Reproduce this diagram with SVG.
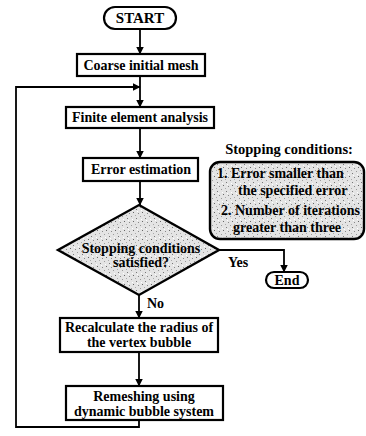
<svg xmlns="http://www.w3.org/2000/svg" width="366" height="436" viewBox="0 0 366 436">
<style>
  .t{font-family:"Liberation Serif","Times New Roman",serif;font-weight:bold;font-size:14px;fill:#000}
  .c{text-anchor:middle}
  .box{fill:#fff;stroke:#000;stroke-width:2.2}
  .sh{fill:url(#stip);stroke:#000;stroke-width:2.4}
  .ln{fill:none;stroke:#000;stroke-width:1.8}
</style>
<defs>
  <pattern id="stip" width="9" height="9" patternUnits="userSpaceOnUse">
    <rect width="9" height="9" fill="#e4e4e4"/>
    <rect x="1" y="2" width="1" height="1" fill="#777"/>
    <rect x="5" y="0" width="1" height="1" fill="#999"/>
    <rect x="7" y="5" width="1" height="1" fill="#666"/>
    <rect x="3" y="6" width="1" height="1" fill="#888"/>
    <rect x="0" y="8" width="1" height="1" fill="#aaa"/>
    <rect x="6" y="3" width="1" height="1" fill="#fff"/>
    <rect x="2" y="4" width="1" height="1" fill="#fff"/>
  </pattern>
  <marker id="ah" markerWidth="8" markerHeight="9" refX="7.5" refY="4.5" orient="auto" markerUnits="userSpaceOnUse">
    <path d="M0,0.5 L8,4.5 L0,8.5 Z" fill="#000"/>
  </marker>
</defs>

<g id="connectors">
  <line class="ln" x1="140" y1="29" x2="140" y2="54" marker-end="url(#ah)"/>
  <line class="ln" x1="140" y1="76" x2="140" y2="107" marker-end="url(#ah)"/>
  <line class="ln" x1="140" y1="128" x2="140" y2="158" marker-end="url(#ah)"/>
  <line class="ln" x1="140" y1="181" x2="140" y2="205" marker-end="url(#ah)"/>
  <line class="ln" x1="139" y1="295" x2="139" y2="318" marker-end="url(#ah)"/>
  <line class="ln" x1="139" y1="352" x2="139" y2="386" marker-end="url(#ah)"/>
  <polyline class="ln" points="218,250 284,250 284,272" marker-end="url(#ah)"/>
  <polyline class="ln" points="139,420 139,427 16,427 16,87 140,87" marker-end="url(#ah)"/>
  <text class="t" x="147" y="308">No</text>
  <text class="t" x="228" y="267">Yes</text>
</g>

<g id="start">
  <rect class="box" x="104" y="7" width="72" height="22" rx="11"/>
  <text class="t c" x="140" y="23" style="font-size:15px">START</text>
</g>

<g id="coarse">
  <rect class="box" x="77" y="54" width="128" height="22"/>
  <text class="t c" x="141" y="70">Coarse initial mesh</text>
</g>

<g id="fea">
  <rect class="box" x="66" y="107" width="148" height="21"/>
  <text class="t c" x="140" y="122">Finite element analysis</text>
</g>

<g id="error">
  <rect class="box" x="83" y="158" width="115" height="23"/>
  <text class="t c" x="141" y="174">Error estimation</text>
</g>

<g id="decision">
  <polygon class="sh" points="139,205 219,250 139,295 58,250"/>
  <text class="t c" x="141" y="253">Stopping conditions</text>
  <text class="t c" x="141" y="267">satisfied?</text>
</g>

<g id="end">
  <rect class="box" x="266" y="272" width="42" height="16" rx="8"/>
  <text class="t c" x="287" y="285">End</text>
</g>

<g id="conditions">
  <text class="t c" x="289" y="154" style="font-size:14.5px">Stopping conditions:</text>
  <rect class="sh" x="210" y="162" width="154" height="77" rx="10"/>
  <text class="t" x="217" y="178">1. Error smaller than</text>
  <text class="t" x="238" y="195">the specified error</text>
  <text class="t" x="221" y="215">2. Number of iterations</text>
  <text class="t" x="233" y="232">greater than three</text>
</g>

<g id="recalc">
  <rect class="box" x="60" y="318" width="158" height="34"/>
  <text class="t c" x="139" y="332">Recalculate the radius of</text>
  <text class="t c" x="139" y="347">the vertex bubble</text>
</g>

<g id="remesh">
  <rect class="box" x="66" y="386" width="157" height="34"/>
  <text class="t c" x="144" y="401">Remeshing using</text>
  <text class="t c" x="144" y="416">dynamic bubble system</text>
</g>
</svg>
